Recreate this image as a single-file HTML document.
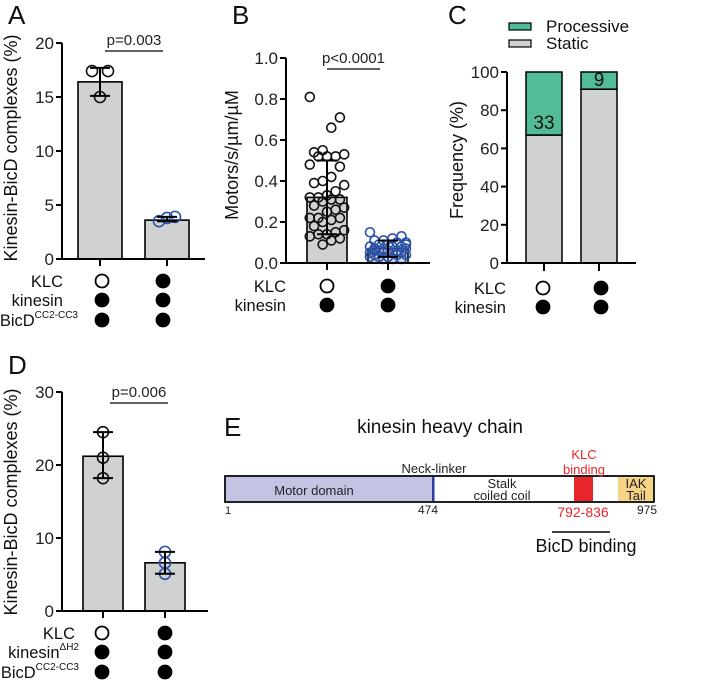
<!DOCTYPE html>
<html><head><meta charset="utf-8"><style>
body{margin:0;background:#fff}
svg{display:block;font-family:"Liberation Sans",Arial,sans-serif}
</style></head><body>
<svg id="fig" width="709" height="684" viewBox="0 0 709 684"></svg>
<script>
// Panel A data
const aCats=['KLC−','KLC+'];
const aMeans=[16.4,3.6];
const aErrLo=[15.1,3.5];
const aErrHi=[17.7,3.9];
const aPts=[[17.4,17.4,15.0],[3.5,3.9,3.8]];
const aTicks=[0,5,10,15,20];
// Panel B data
const bMeans=[0.32,0.07];
const bErrLo=[0.14,0.03];
const bErrHi=[0.50,0.11];
const bPts1=[0.81,0.71,0.66,0.55,0.54,0.53,0.52,0.52,0.52,0.48,0.47,0.42,0.40,0.39,0.38,0.35,0.33,0.32,0.32,0.31,0.31,0.30,0.28,0.27,0.26,0.25,0.22,0.22,0.22,0.21,0.20,0.18,0.16,0.15,0.14,0.14,0.13,0.12,0.11,0.09];
const bPts2=[0.15,0.13,0.12,0.11,0.11,0.10,0.10,0.09,0.09,0.08,0.08,0.08,0.07,0.07,0.07,0.06,0.06,0.06,0.05,0.05,0.05,0.05,0.04,0.04,0.04,0.03,0.03,0.03,0.02,0.02,0.02,0.06,0.09,0.04];
const bTicks=[0,0.2,0.4,0.6,0.8,1.0];
// Panel C data
const cStatic=[67,91];
const cProc=[33,9];
const cTicks=[0,20,40,60,80,100];
// Panel D data
const dMeans=[21.2,6.6];
const dErrLo=[18.2,5.1];
const dErrHi=[24.5,8.1];
const dPts=[[24.5,21.0,18.2],[8.1,6.6,5.1]];
const dTicks=[0,10,20,30];

const NS='http://www.w3.org/2000/svg';
const svg=document.getElementById('fig');
function el(tag,attrs,parent,text){const e=document.createElementNS(NS,tag);for(const k in attrs)e.setAttribute(k,attrs[k]);if(text!==undefined)e.textContent=text;(parent||svg).appendChild(e);return e;}
function txt(x,y,s,size,anchor,fill,parent){return el('text',{x:x,y:y,'font-size':size,'text-anchor':anchor||'start',fill:fill||'#111'},parent,s);}

function axisY(g,x,y0,y1,vmax,ticks,fmt){
  el('line',{x1:x,y1:y0+1,x2:x,y2:y1,stroke:'#000','stroke-width':2},g);
  ticks.forEach(t=>{const y=y0-(y0-y1)*t/vmax;
    el('line',{x1:x-6,y1:y,x2:x,y2:y,stroke:'#000','stroke-width':2},g);
    const lab=txt(x-8,y+6,fmt(t),17,'end','#222',g);
    
    
  });
}
function ytitle(g,x,y,s){const t=el('text',{x:0,y:0,'font-size':18,'text-anchor':'middle',fill:'#111',transform:`translate(${x},${y}) rotate(-90)`},g,s);}
function dot(g,cx,cy,filled){el('circle',{cx:cx,cy:cy,r:6.5,fill:filled?'#000':'#fff',stroke:'#000','stroke-width':1.8},g);}
function letter(x,y,s){const t=txt(x,y,s,26,'start','#111');}

function barPanel(name,opt){
  const g=el('g',{});
  
  
  const Y=v=>opt.y0-(opt.y0-opt.y1)*v/opt.vmax;
  opt.means.forEach((m,i)=>{
    const b=el('rect',{x:opt.bx[i],y:Y(m),width:opt.bw,height:opt.y0-Y(m),fill:'#d0d1d1',stroke:'#000','stroke-width':1.6},g);
    
    
  });
  opt.pts.forEach((arr,i)=>{
    const cx=opt.bx[i]+opt.bw/2;
    const col=i===0?'#111':'#2a50a8';
    arr.forEach((v,j)=>{
      let off=0;
      if(opt.jitter){off=((j*7)%9-4)*opt.jitter[i];}
      else off=[ -5,5,0][j%3]*opt.spread[i];
      const c=el('circle',{cx:cx+off,cy:Y(v),r:opt.r,fill:'none',stroke:col,'stroke-width':1.6},g);
      
      
    });
    const lo=Y(opt.lo[i]),hi=Y(opt.hi[i]);
    el('line',{x1:cx,y1:lo,x2:cx,y2:hi,stroke:'#000','stroke-width':2},g);
    el('line',{x1:cx-10,y1:lo,x2:cx+10,y2:lo,stroke:'#000','stroke-width':2},g);
    el('line',{x1:cx-10,y1:hi,x2:cx+10,y2:hi,stroke:'#000','stroke-width':2},g);
    el('line',{x1:cx,y1:opt.y0,x2:cx,y2:opt.y0+7,stroke:'#000','stroke-width':2},g);
  });
  el('line',{x1:opt.ax,y1:opt.y0,x2:opt.xend,y2:opt.y0,stroke:'#000','stroke-width':2},g);
  axisY(g,opt.ax,opt.y0,opt.y1,opt.vmax,opt.ticks,opt.fmt);
  el('line',{x1:opt.sig[0],y1:opt.sig[2],x2:opt.sig[1],y2:opt.sig[2],stroke:'#000','stroke-width':1.2},g);
  const p=txt((opt.sig[0]+opt.sig[1])/2,opt.sig[2]-6,opt.ptext,15,'middle','#222',g);
  
  
  return g;
}
function rowLabels(g,xr,xs,ys,labels,cx,pattern){
  labels.forEach((l,k)=>{
    const t=el('text',{x:l[1]?xs:xr,y:ys[k]+6,'font-size':16.5,'text-anchor':'end',fill:'#111'},g);
    
    
    t.appendChild(document.createTextNode(l[0]));
    if(l[1]){el('tspan',{'font-size':10,dy:-8},t,l[1]);}
    cx.forEach((x,i)=>dot(g,x,ys[k],pattern[k][i]));
  });
}

// Panel A
letter(8,24,'A');
let gA=barPanel('panel-a-chart',{ax:62,y0:259,y1:43,vmax:20,ticks:aTicks,fmt:t=>String(t),bx:[78,145],bw:44,means:aMeans,lo:aErrLo,hi:aErrHi,pts:aPts,r:5.5,spread:[1.6,1.6],xend:205,sig:[105,163,51],ptext:'p=0.003'});
ytitle(gA,17,148,'Kinesin-BicD complexes (%)');
rowLabels(gA,63,78,[281,300,320],[['KLC'],['kinesin'],['BicD','CC2-CC3']],[102,163],[[0,1],[1,1],[1,1]]);

// Panel B
letter(232,24,'B');
let gB=barPanel('panel-b-chart',{ax:286,y0:263,y1:58,vmax:1.0,ticks:bTicks,fmt:t=>t.toFixed(1),bx:[307,368],bw:40,means:bMeans,lo:bErrLo,hi:bErrHi,pts:[bPts1,bPts2],r:4.5,jitter:[4.3,4.5],xend:430,sig:[327,380,69],ptext:'p<0.0001'});
ytitle(gB,238,155,'Motors/s/µm/µM');
rowLabels(gB,286,286,[286,305],[['KLC'],['kinesin']],[327,388],[[0,1],[1,1]]);

// Panel C
letter(448,24,'C');
const gC=el('g',{});


(function(){
  const y0=263,y1=72,ax=507,Y=v=>y0-(y0-y1)*v/100;
  const bx=[526,581],bw=36;
  cStatic.forEach((s,i)=>{
    const r1=el('rect',{x:bx[i],y:Y(s),width:bw,height:y0-Y(s),fill:'#d0d1d1',stroke:'#000','stroke-width':1.5},gC);
    
    
    const r2=el('rect',{x:bx[i],y:Y(s+cProc[i]),width:bw,height:Y(s)-Y(s+cProc[i]),fill:'#52bc96',stroke:'#000','stroke-width':1.5},gC);
    
    
    const lbl=txt(bx[i]+bw/2,Y(s)-(i===0?6:3),String(cProc[i]),19,'middle','#111',gC);
    
    
    el('line',{x1:bx[i]+bw/2,y1:y0,x2:bx[i]+bw/2,y2:y0+8,stroke:'#000','stroke-width':2},gC);
  });
  el('line',{x1:ax,y1:y0,x2:636,y2:y0,stroke:'#000','stroke-width':2},gC);
  axisY(gC,ax,y0,y1,100,cTicks,t=>String(t));
  ytitle(gC,463,160,'Frequency (%)');
  [['Processive','#52bc96',26],['Static','#d0d1d1',43]].forEach(l=>{
    const lg=el('g',{},gC);
    
    
    el('rect',{x:509,y:l[2]-3,width:22,height:7,fill:l[1],stroke:'#000','stroke-width':1.2},lg);
    txt(546,l[2]+6,l[0],17,'start','#111',lg);
  });
  rowLabels(gC,506,506,[288,307],[['KLC'],['kinesin']],[543,601],[[0,1],[1,1]]);
})();

// Panel D
letter(8,374,'D');
let gD=barPanel('panel-d-chart',{ax:62,y0:611,y1:392,vmax:30,ticks:dTicks,fmt:t=>String(t),bx:[83,145],bw:40,means:dMeans,lo:dErrLo,hi:dErrHi,pts:dPts,r:5.5,spread:[0,0],xend:208,sig:[110,168,403],ptext:'p=0.006'});
ytitle(gD,17,502,'Kinesin-BicD complexes (%)');
rowLabels(gD,75,79,[633,652,672],[['KLC'],['kinesin','ΔH2'],['BicD','CC2-CC3']],[102,165],[[0,1],[1,1],[1,1]]);

// Panel E
letter(224,436,'E');
const gE=el('g',{});


txt(440,433,'kinesin heavy chain',19,'middle','#111',gE);
el('rect',{x:225,y:476,width:429,height:26,fill:'#fff',stroke:'#000','stroke-width':1.5},gE);
const md=el('rect',{x:226,y:477,width:206,height:24,fill:'#c3c4e4'},gE);


el('rect',{x:432,y:477,width:2.5,height:24,fill:'#2a3fa0'},gE);
const kb=el('rect',{x:574,y:477,width:19,height:24,fill:'#e8262b'},gE);


const tail=el('rect',{x:618,y:477,width:35,height:24,fill:'#f6d487'},gE);


el('rect',{x:225,y:476,width:429,height:26,fill:'none',stroke:'#000','stroke-width':1.5},gE);
txt(314,495,'Motor domain',13,'middle','#222',gE);
txt(502,488,'Stalk',13,'middle','#222',gE);
txt(502,500,'coiled coil',13,'middle','#222',gE);
txt(636,488,'IAK',13,'middle','#222',gE);
txt(636,500,'Tail',13,'middle','#222',gE);
txt(434,473,'Neck-linker',13,'middle','#222',gE);
txt(584,459,'KLC',13,'middle','#e8262b',gE);
txt(584,474,'binding',13,'middle','#e8262b',gE);
txt(225,514,'1',11,'start','#222',gE);
txt(428,514,'474',12,'middle','#222',gE);
txt(583,517,'792-836',14,'middle','#e8262b',gE);
txt(647,514,'975',12,'middle','#222',gE);
el('line',{x1:552,y1:532,x2:610,y2:532,stroke:'#000','stroke-width':1.5},gE);
txt(586,552,'BicD binding',18,'middle','#111',gE);
</script>
</body></html>
